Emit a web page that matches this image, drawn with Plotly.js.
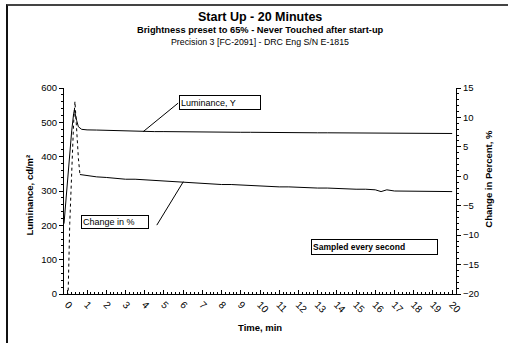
<!DOCTYPE html>
<html><head><meta charset="utf-8">
<script src="https://cdn.plot.ly/plotly-3.0.1.min.js"></script>
<style>
html,body{margin:0;padding:0;background:#fff;}
#wrap{position:relative;width:508px;height:343px;overflow:hidden;}
#chart{position:absolute;left:0;top:0;width:508px;height:343px;}
#frame{position:absolute;left:6px;top:4px;width:520px;height:360px;border-top:2px solid #444;border-left:2px solid #111;pointer-events:none;}
</style></head>
<body><div id="wrap"><div id="chart"></div><div id="frame"></div></div>
<script>
// Luminance, Y (cd/m²) vs time (min)
const lumTime = [-0.2,-0.1,0.0,0.1,0.2,0.3,0.34,0.46,0.55,0.72,1.0,1.5,2.0,2.5,3.0,3.5,4.0,4.5,5.0,5.5,6.0,6.5,7.0,7.5,8.0,8.5,9.0,9.5,10.0,10.5,11.0,11.5,12.0,12.5,13.0,13.5,14.0,14.5,15.0,15.5,16.0,16.5,17.0,17.5,18.0,18.5,19.0,19.5,20.0];
const lumValue = [205,275,345,415,475,525,536,505,487,479.6,478,477.5,476.5,475.5,474.5,474,473.5,473,473,472.5,472.5,472,472,471.5,471.5,471,471,471,470.5,470.5,470.5,470,470,470,469.5,469.5,469.5,469,469,469,468.5,468.5,468.5,468.5,468,468,468,468,467.5];
// Change in % – start-up portion (dotted)
const pctStartTime = [-0.2,-0.1,0.0,0.1,0.2,0.3,0.37,0.45,0.55,0.63];
const pctStartValue = [-50,-38,-22,-8,2,9,12.7,8,3,0.3];
// Change in % – after start-up (solid)
const pctTime = [0.63,1.0,1.5,2.0,2.5,3.0,3.5,4.0,4.5,5.0,5.5,6.0,6.5,7.0,7.5,8.0,8.5,9.0,9.5,10.0,10.5,11.0,11.5,12.0,12.5,13.0,13.5,14.0,14.5,15.0,15.5,16.0,16.3,16.6,17.0,17.5,18.0,18.5,19.0,19.5,20.0];
const pctValue = [0.3,0.1,-0.1,-0.2,-0.4,-0.5,-0.5,-0.6,-0.8,-0.9,-1.0,-1.1,-1.1,-1.2,-1.3,-1.4,-1.4,-1.5,-1.6,-1.6,-1.7,-1.8,-1.8,-1.9,-1.9,-2.0,-2.0,-2.1,-2.1,-2.2,-2.2,-2.3,-2.6,-2.3,-2.5,-2.5,-2.5,-2.5,-2.5,-2.5,-2.6];
const xTickVals = [0,1,2,3,4,5,6,7,8,9,10,11,12,13,14,15,16,17,18,19,20];
const xTickText = xTickVals.map(String);

const F = '"Liberation Sans", Arial, sans-serif';
const traces = [
  {x: lumTime, y: lumValue, type:'scatter', mode:'lines', line:{color:'#000', width:1}, yaxis:'y', hoverinfo:'skip'},
  {x: pctStartTime, y: pctStartValue, type:'scatter', mode:'lines', line:{color:'#000', width:1, dash:'dot'}, yaxis:'y2', hoverinfo:'skip'},
  {x: pctTime, y: pctValue, type:'scatter', mode:'lines', line:{color:'#000', width:1}, yaxis:'y2', hoverinfo:'skip'}
];
const ctr = {xanchor:'center', yanchor:'middle', showarrow:false};
const layout = {
  width:508, height:343, showlegend:false,
  paper_bgcolor:'#fff', plot_bgcolor:'#fff',
  margin:{l:64, r:52, t:88, b:49},
  font:{family:F, size:9.5, color:'#000'},
  xaxis:{range:[-0.2,20.2], tickvals:xTickVals, ticktext:xTickText, tickangle:45,
    ticks:'inside', ticklen:4, tickcolor:'#000', showgrid:false, zeroline:false,
    showline:true, linecolor:'#000', linewidth:1,
    minor:{dtick:0.2, ticks:'inside', ticklen:2, tickcolor:'#000', showgrid:false},
    tickfont:{size:10}},
  yaxis:{range:[0,600], dtick:100, ticks:'outside', ticklen:4, tickcolor:'#000',
    showgrid:false, zeroline:false, showline:true, linecolor:'#000', linewidth:1,
    minor:{dtick:20, ticks:'outside', ticklen:2, tickcolor:'#000', showgrid:false}},
  yaxis2:{range:[-20,15], dtick:5, overlaying:'y', side:'right', ticks:'outside', ticklen:4, tickcolor:'#000',
    showgrid:false, zeroline:false, showline:true, linecolor:'#000', linewidth:1,
    minor:{dtick:1, ticks:'outside', ticklen:2, tickcolor:'#000', showgrid:false}},
  shapes:[
    {type:'line', xref:'x', yref:'y', x0:3.92, y0:472.8, x1:5.74, y1:556, line:{color:'#000', width:1}},
    {type:'line', xref:'x', yref:'y2', x0:4.63, y0:-8.3, x1:6.01, y1:-0.92, line:{color:'#000', width:1}}
  ],
  annotations:[
    Object.assign({text:'<b>Start Up - 20 Minutes</b>', xref:'paper', yref:'paper', x:0.5, y:(294-17)/206, font:{size:12.5}}, ctr),
    Object.assign({text:'<b>Brightness preset to 65% - Never Touched after start-up</b>', xref:'paper', yref:'paper', x:0.5, y:(294-30)/206, font:{size:9.3}}, ctr),
    Object.assign({text:'Precision 3 [FC-2091] - DRC Eng S/N E-1815', xref:'paper', yref:'paper', x:0.5, y:(294-42)/206, font:{size:8.8}}, ctr),
    Object.assign({text:'<b>Luminance, cd/m²</b>', xref:'paper', yref:'paper', x:(30-64)/392, y:0.478, textangle:-90, font:{size:9.5}}, ctr),
    Object.assign({text:'<b>Change in Percent, %</b>', xref:'paper', yref:'paper', x:(489-64)/392, y:0.56, textangle:-90, font:{size:9.5}}, ctr),
    Object.assign({text:'<b>Time, min</b>', xref:'paper', yref:'paper', x:0.5, y:(294-327)/206, font:{size:9.5}}, ctr),
    Object.assign({text:'Luminance, Y', xref:'x', yref:'y', x:7.925, y:557.8,
      width:78, height:11, align:'left', borderpad:1, bordercolor:'#000', borderwidth:1, bgcolor:'#fff', font:{size:9}}, ctr),
    Object.assign({text:'Change in %', xref:'x', yref:'y', x:2.456, y:209.7,
      width:64, height:10, align:'left', borderpad:1, bordercolor:'#000', borderwidth:1, bgcolor:'#fff', font:{size:9}}, ctr),
    Object.assign({text:'<b>Sampled every second</b>', xref:'x', yref:'y', x:15.97, y:136.9,
      width:123, height:12, align:'left', borderpad:1, bordercolor:'#000', borderwidth:1, bgcolor:'#fff', font:{size:8.5}}, ctr)
  ]
};
Plotly.newPlot('chart', traces, layout, {staticPlot:true, displayModeBar:false});
</script></body></html>
